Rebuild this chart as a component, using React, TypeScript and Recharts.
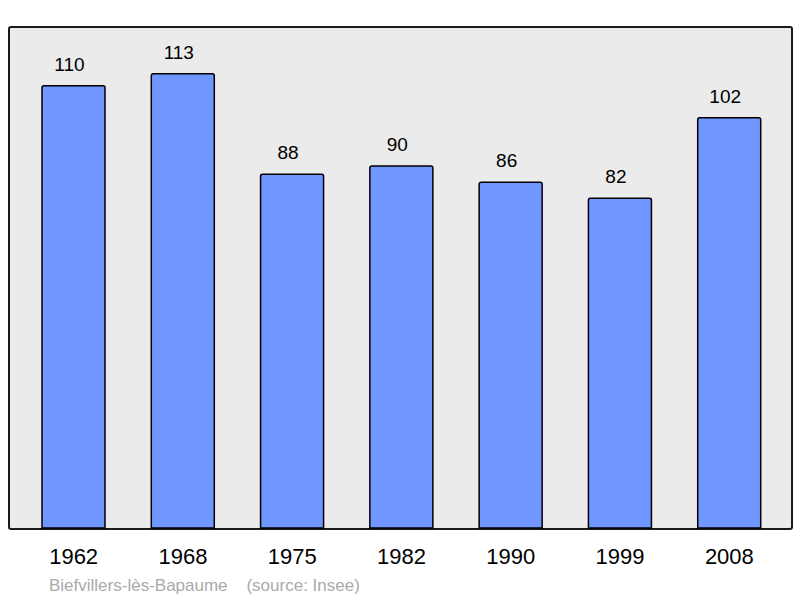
import React from 'react';
import { BarChart, Bar, XAxis, YAxis, LabelList } from 'recharts';

const years = ['1962', '1968', '1975', '1982', '1990', '1999', '2008'];
const population = [110, 113, 88, 90, 86, 82, 102];

const data = years.map((year, i) => ({ year, population: population[i] }));

const font = '"Liberation Sans", Arial, sans-serif';

export default function App() {
  return (
    <div style={{ position: 'absolute', left: 0, top: 0, width: 800, height: 598, background: '#fff', fontFamily: font }}>
      <div
        style={{
          position: 'absolute',
          left: 8,
          top: 26,
          width: 781,
          height: 500,
          background: '#ebebeb',
          border: '2px solid #1a1a1a',
          borderRadius: 3,
        }}
      />
      <div style={{ position: 'absolute', left: 0, top: 0 }}>
        <BarChart width={800} height={598} data={data} margin={{ top: 27, right: 9, bottom: 0, left: 9 }}>
          <XAxis
            dataKey="year"
            height={70}
            axisLine={false}
            tickLine={false}
            tickSize={0}
            tickMargin={20}
            padding={{ left: 10, right: 7 }}
            tick={{ fill: '#000', fontSize: 22, fontFamily: font }}
          />
          <YAxis hide domain={[0, 124.6]} />
          <Bar
            dataKey="population"
            fill="#7096ff"
            stroke="#000"
            strokeWidth={1.5}
            barSize={63}
            radius={[2, 2, 0, 0]}
            isAnimationActive={false}
          >
            <LabelList dataKey="population" position="top" offset={15} dx={-4} fill="#000" fontSize={19} fontFamily={font} />
          </Bar>
        </BarChart>
      </div>
      <div style={{ position: 'absolute', left: 49, top: 576, fontSize: 17, color: '#aaaaaa', whiteSpace: 'pre' }}>
        {'Biefvillers-lès-Bapaume    (source: Insee)'}
      </div>
    </div>
  );
}
